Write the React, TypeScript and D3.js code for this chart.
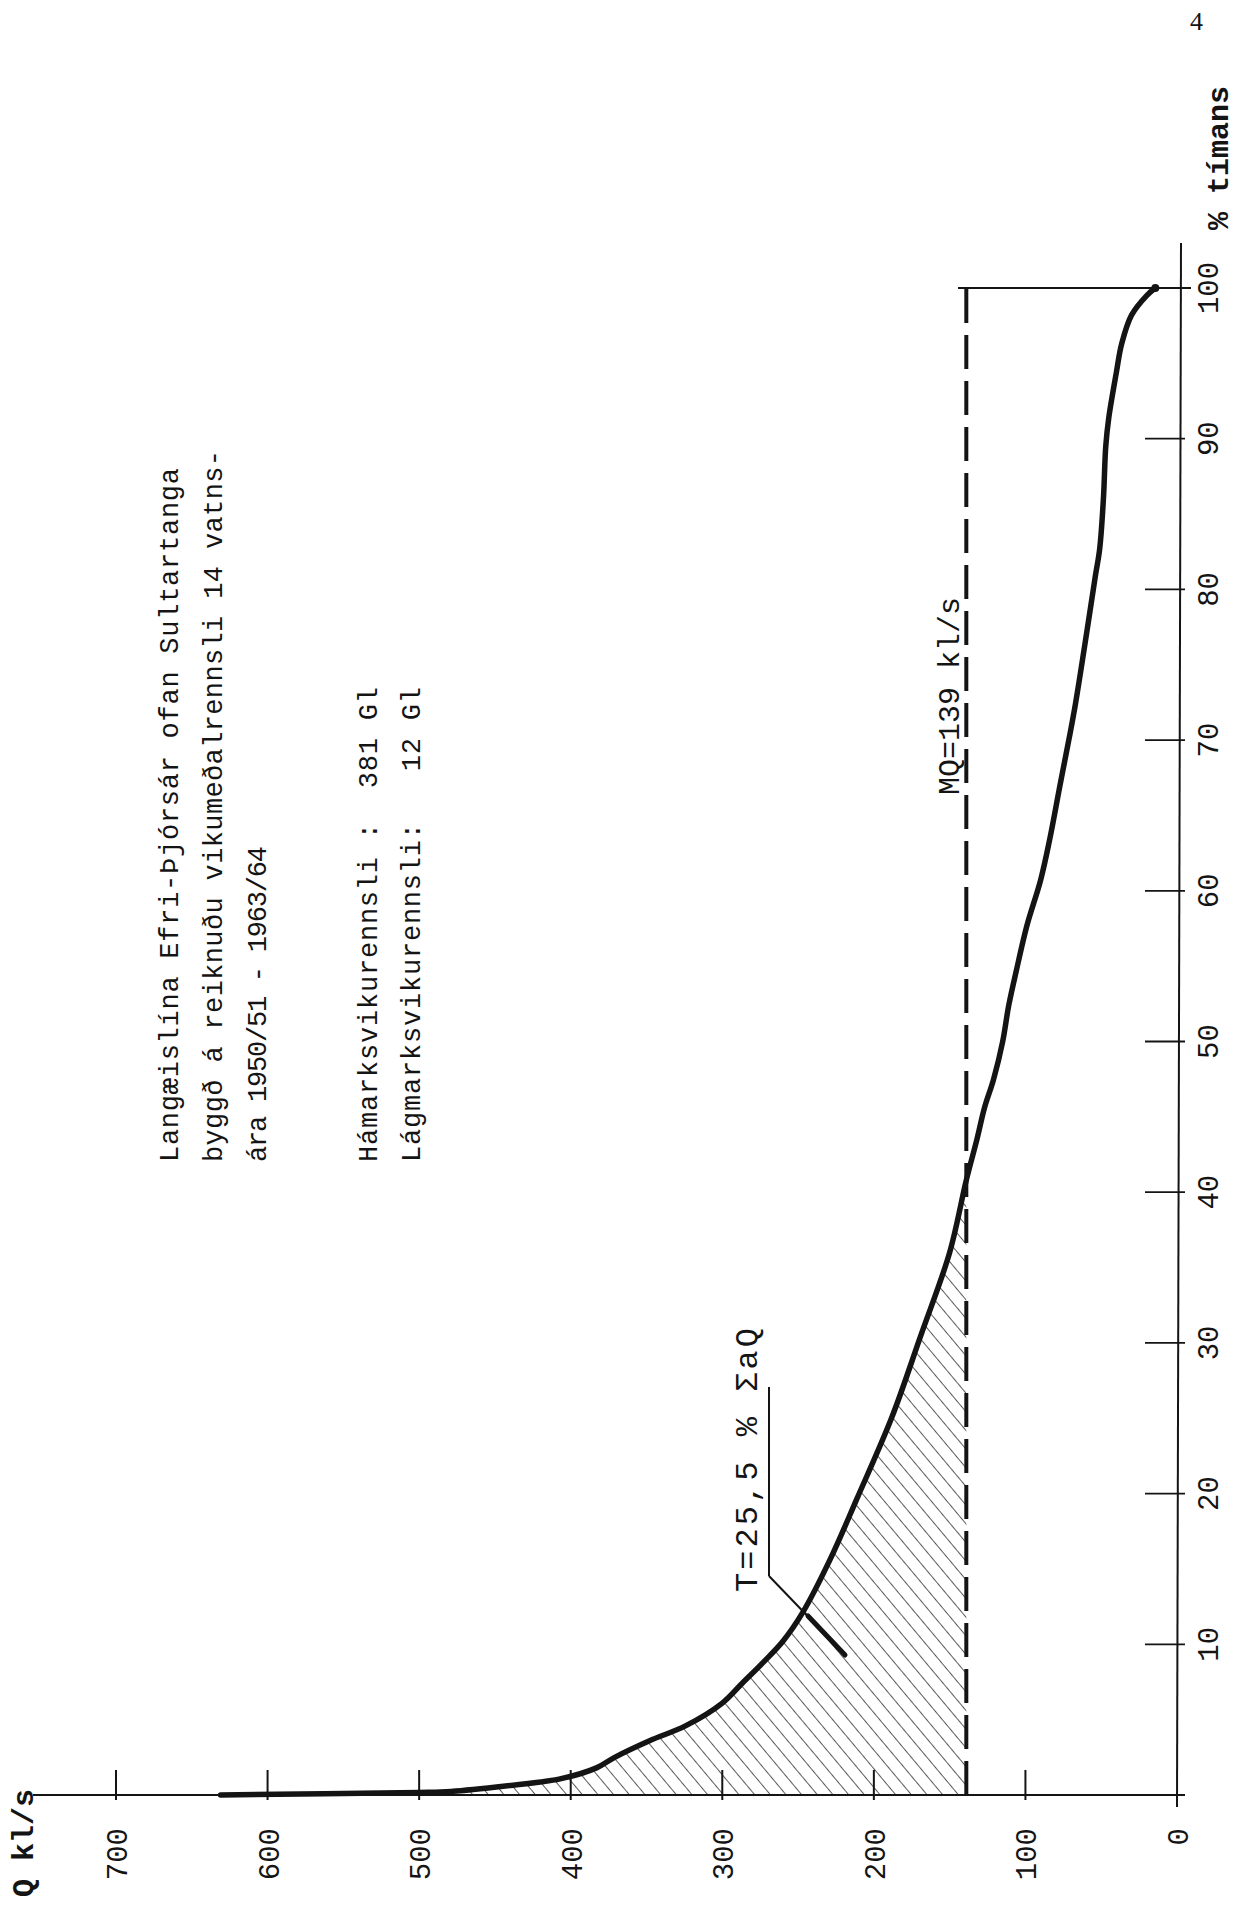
import React from "react";
import * as d3 from "d3";

// duration curve (% of time -> Q kl/s)
const pct = [0, 0.17, 0.24, 0.6, 1.07, 1.8, 2.5, 3.6, 4.6, 6.1, 7.4, 8.8, 10.2, 12.1, 15.6, 19.7, 25.1, 30.5, 36, 40.8, 43.5, 45.6, 47.5, 50, 52.4, 54.7, 57.7, 60.7, 63.4, 67.1, 70.2, 72.4, 76.2, 80.8, 82.7, 86.1, 89.5, 91.4, 94.4, 96.3, 98.2, 99.5, 100];
const flow = [631, 500, 479, 443, 407, 383, 371, 348, 324, 300, 287, 273, 260, 247, 229, 211, 188, 169, 150, 139, 132, 127, 121, 115, 111, 106, 99, 90, 84, 77, 71, 67, 61, 54, 51, 48.5, 47, 45, 40, 36.5, 30, 20, 14.3];

const qTicks = [100, 200, 300, 400, 500, 600, 700];
const qLabels = [0, 100, 200, 300, 400, 500, 600, 700];
const pTicks = [10, 20, 30, 40, 50, 60, 70, 80, 90];
const pLabels = [10, 20, 30, 40, 50, 60, 70, 80, 90, 100];

const MQ = 139;
const hatchEnd = 40.8;

const titleLines = [
  "Langæislína Efri-Þjórsár ofan Sultartanga",
  "byggð á reiknuðu vikumeðalrennsli 14 vatns-",
  "ára 1950/51 - 1963/64",
];
const titleLengths = [694, 712, 316];
const statLines = [
  "Hámarksvikurennsli :  381 Gl",
  "Lágmarksvikurennsli:   12 Gl",
];

const W = 1241;
const H = 1908;
const ink = "#141414";
const mono = "'Liberation Mono', 'DejaVu Sans Mono', monospace";

const x = d3.scaleLinear().domain([0, 700]).range([1177, 116]);
const y = d3.scaleLinear().domain([0, 100]).range([1795, 288]);

const pts = pct.map((p, i) => ({ p, q: flow[i] }));

const line = d3
  .line<{ p: number; q: number }>()
  .x((d) => x(d.q))
  .y((d) => y(d.p))
  .curve(d3.curveCatmullRom.alpha(0.5));

const area = d3
  .area<{ p: number; q: number }>()
  .y((d) => y(d.p))
  .x0(x(MQ))
  .x1((d) => x(d.q))
  .curve(d3.curveCatmullRom.alpha(0.5));

const rot = (tx: number, ty: number) => `translate(${tx},${ty}) rotate(-90)`;

export default function App() {
  const x0 = x(0);
  const yBase = y(0);
  const last = pts[pts.length - 1];
  return (
    <svg
      width={W}
      height={H}
      style={{ position: "absolute", left: 0, top: 0, background: "#fff" }}
    >
      <defs>
        <pattern
          id="hatch"
          width={12}
          height={12}
          patternUnits="userSpaceOnUse"
          patternTransform="rotate(-40)"
        >
          <line x1={0} y1={0} x2={0} y2={12} stroke={ink} strokeWidth={1.4} />
        </pattern>
      </defs>

      {/* hatched area above MQ */}
      <path d={area(pts.filter((d) => d.p <= hatchEnd)) || ""} fill="url(#hatch)" stroke="none" />

      {/* Q axis */}
      <line x1={33} x2={x0 + 8} y1={yBase} y2={yBase} stroke={ink} strokeWidth={2} />
      {qTicks.map((t) => (
        <line key={t} x1={x(t)} x2={x(t)} y1={yBase - 25} y2={yBase + 5} stroke={ink} strokeWidth={2} />
      ))}
      {qLabels.map((t) => (
        <text
          key={t}
          transform={rot(x(t) + 11, 1828)}
          textAnchor="end"
          fontFamily={mono}
          fontSize={29}
          fill={ink}
        >
          {t}
        </text>
      ))}
      <text transform={rot(33, 1897)} fontFamily={mono} fontWeight="bold" fontSize={30} fill={ink}>
        Q kl/s
      </text>

      {/* % axis */}
      <line x1={x0 + 4} x2={x0} y1={243} y2={yBase + 12} stroke={ink} strokeWidth={2} />
      {pTicks.map((t) => (
        <line key={t} x1={x0 - 32} x2={x0 + 8} y1={y(t)} y2={y(t)} stroke={ink} strokeWidth={1.8} />
      ))}
      <line x1={958} x2={x0 + 14} y1={y(100)} y2={y(100)} stroke={ink} strokeWidth={1.8} />
      {pLabels.map((t) => (
        <text
          key={t}
          transform={rot(x0 + 41, y(t))}
          textAnchor="middle"
          fontFamily={mono}
          fontSize={29}
          fill={ink}
        >
          {t}
        </text>
      ))}
      <text transform={rot(1228, 230)} fontFamily={mono} fontWeight="bold" fontSize={30} fill={ink}>
        % tímans
      </text>

      {/* MQ line */}
      <line
        x1={x(MQ)}
        x2={x(MQ)}
        y1={yBase}
        y2={y(100)}
        stroke={ink}
        strokeWidth={4}
        strokeDasharray="34 12"
      />
      <text transform={rot(x(MQ) - 7, 795)} fontFamily={mono} fontSize={30} fill={ink}>
        MQ=139 kl/s
      </text>

      {/* duration curve */}
      <path d={line(pts) || ""} fill="none" stroke={ink} strokeWidth={5.5} strokeLinejoin="round" strokeLinecap="round" />
      <circle cx={x(last.q)} cy={y(last.p)} r={4} fill={ink} />

      {/* T label with leader */}
      <text
        transform={rot(757, 1592)}
        fontFamily={mono}
        fontSize={32}
        fill={ink}
        textLength={264}
        lengthAdjust="spacing"
      >
        T=25,5 % ΣaQ
      </text>
      <line x1={769} x2={769} y1={1387} y2={1576} stroke={ink} strokeWidth={2} />
      <line x1={769} x2={845} y1={1576} y2={1655} stroke={ink} strokeWidth={2} />
      <line x1={808} x2={845} y1={1616} y2={1655} stroke={ink} strokeWidth={5} strokeLinecap="round" />

      {/* notes */}
      {titleLines.map((s, i) => (
        <text
          key={s}
          transform={rot(178 + i * 44, 1162)}
          fontFamily={mono}
          fontSize={27}
          fill={ink}
          textLength={titleLengths[i]}
          lengthAdjust="spacing"
          style={{ whiteSpace: "pre" }}
        >
          {s}
        </text>
      ))}
      {statLines.map((s, i) => (
        <text
          key={s}
          transform={rot(377 + i * 43, 1162)}
          fontFamily={mono}
          fontSize={27}
          fill={ink}
          textLength={475}
          lengthAdjust="spacing"
          style={{ whiteSpace: "pre" }}
        >
          {s}
        </text>
      ))}

      <text x={1190} y={30} fontFamily="'Liberation Serif', serif" fontSize={26} fill={ink}>
        4
      </text>
    </svg>
  );
}
